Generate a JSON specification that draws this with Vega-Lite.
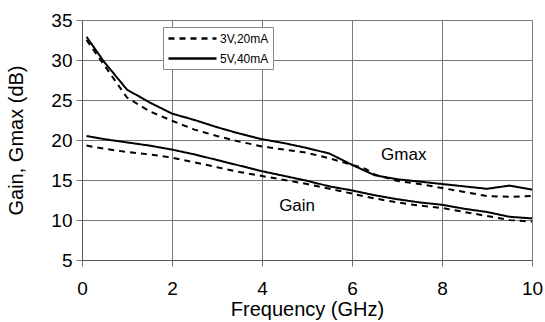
{
  "$schema": "https://vega.github.io/schema/vega-lite/v6.json",
  "width": 450,
  "height": 240,
  "autosize": {"type": "none"},
  "padding": {"left": 82, "top": 20, "right": 13, "bottom": 62},
  "background": "white",
  "config": {
    "view": {"stroke": null},
    "font": "Liberation Sans",
    "axis": {
      "labelFont": "Liberation Sans",
      "titleFont": "Liberation Sans",
      "labelColor": "#000",
      "titleColor": "#000",
      "titleFontWeight": "normal",
      "gridColor": "#7a7a7a",
      "gridOpacity": 1,
      "gridWidth": 1,
      "domainColor": "#555",
      "tickColor": "#777",
      "tickSize": 6
    }
  },
  "datasets": {
    "curves": [
      {"f": 0.1, "g": 32.9, "series": "5V,40mA", "curve": "Gmax"},
      {"f": 0.5, "g": 29.7, "series": "5V,40mA", "curve": "Gmax"},
      {"f": 1, "g": 26.3, "series": "5V,40mA", "curve": "Gmax"},
      {"f": 1.5, "g": 24.7, "series": "5V,40mA", "curve": "Gmax"},
      {"f": 2, "g": 23.3, "series": "5V,40mA", "curve": "Gmax"},
      {"f": 2.5, "g": 22.5, "series": "5V,40mA", "curve": "Gmax"},
      {"f": 3, "g": 21.6, "series": "5V,40mA", "curve": "Gmax"},
      {"f": 3.5, "g": 20.8, "series": "5V,40mA", "curve": "Gmax"},
      {"f": 4, "g": 20.1, "series": "5V,40mA", "curve": "Gmax"},
      {"f": 4.5, "g": 19.6, "series": "5V,40mA", "curve": "Gmax"},
      {"f": 5, "g": 19.0, "series": "5V,40mA", "curve": "Gmax"},
      {"f": 5.5, "g": 18.3, "series": "5V,40mA", "curve": "Gmax"},
      {"f": 6, "g": 16.9, "series": "5V,40mA", "curve": "Gmax"},
      {"f": 6.5, "g": 15.6, "series": "5V,40mA", "curve": "Gmax"},
      {"f": 7, "g": 15.1, "series": "5V,40mA", "curve": "Gmax"},
      {"f": 7.5, "g": 14.8, "series": "5V,40mA", "curve": "Gmax"},
      {"f": 8, "g": 14.5, "series": "5V,40mA", "curve": "Gmax"},
      {"f": 8.5, "g": 14.2, "series": "5V,40mA", "curve": "Gmax"},
      {"f": 9, "g": 13.9, "series": "5V,40mA", "curve": "Gmax"},
      {"f": 9.5, "g": 14.3, "series": "5V,40mA", "curve": "Gmax"},
      {"f": 10, "g": 13.8, "series": "5V,40mA", "curve": "Gmax"},

      {"f": 0.1, "g": 32.5, "series": "3V,20mA", "curve": "Gmax"},
      {"f": 0.5, "g": 29.3, "series": "3V,20mA", "curve": "Gmax"},
      {"f": 1, "g": 25.3, "series": "3V,20mA", "curve": "Gmax"},
      {"f": 1.5, "g": 23.6, "series": "3V,20mA", "curve": "Gmax"},
      {"f": 2, "g": 22.4, "series": "3V,20mA", "curve": "Gmax"},
      {"f": 2.5, "g": 21.3, "series": "3V,20mA", "curve": "Gmax"},
      {"f": 3, "g": 20.5, "series": "3V,20mA", "curve": "Gmax"},
      {"f": 3.5, "g": 19.8, "series": "3V,20mA", "curve": "Gmax"},
      {"f": 4, "g": 19.2, "series": "3V,20mA", "curve": "Gmax"},
      {"f": 4.5, "g": 18.8, "series": "3V,20mA", "curve": "Gmax"},
      {"f": 5, "g": 18.4, "series": "3V,20mA", "curve": "Gmax"},
      {"f": 5.5, "g": 17.7, "series": "3V,20mA", "curve": "Gmax"},
      {"f": 6, "g": 16.9, "series": "3V,20mA", "curve": "Gmax"},
      {"f": 6.3, "g": 16.4, "series": "3V,20mA", "curve": "Gmax"},
      {"f": 6.5, "g": 15.7, "series": "3V,20mA", "curve": "Gmax"},
      {"f": 7, "g": 14.9, "series": "3V,20mA", "curve": "Gmax"},
      {"f": 7.5, "g": 14.5, "series": "3V,20mA", "curve": "Gmax"},
      {"f": 8, "g": 14.0, "series": "3V,20mA", "curve": "Gmax"},
      {"f": 8.5, "g": 13.5, "series": "3V,20mA", "curve": "Gmax"},
      {"f": 9, "g": 13.0, "series": "3V,20mA", "curve": "Gmax"},
      {"f": 9.5, "g": 12.9, "series": "3V,20mA", "curve": "Gmax"},
      {"f": 10, "g": 13.0, "series": "3V,20mA", "curve": "Gmax"},

      {"f": 0.1, "g": 20.5, "series": "5V,40mA", "curve": "Gain"},
      {"f": 0.5, "g": 20.1, "series": "5V,40mA", "curve": "Gain"},
      {"f": 1, "g": 19.7, "series": "5V,40mA", "curve": "Gain"},
      {"f": 1.5, "g": 19.3, "series": "5V,40mA", "curve": "Gain"},
      {"f": 2, "g": 18.8, "series": "5V,40mA", "curve": "Gain"},
      {"f": 2.5, "g": 18.2, "series": "5V,40mA", "curve": "Gain"},
      {"f": 3, "g": 17.5, "series": "5V,40mA", "curve": "Gain"},
      {"f": 3.5, "g": 16.8, "series": "5V,40mA", "curve": "Gain"},
      {"f": 4, "g": 16.1, "series": "5V,40mA", "curve": "Gain"},
      {"f": 4.5, "g": 15.5, "series": "5V,40mA", "curve": "Gain"},
      {"f": 5, "g": 14.9, "series": "5V,40mA", "curve": "Gain"},
      {"f": 5.5, "g": 14.2, "series": "5V,40mA", "curve": "Gain"},
      {"f": 6, "g": 13.7, "series": "5V,40mA", "curve": "Gain"},
      {"f": 6.5, "g": 13.1, "series": "5V,40mA", "curve": "Gain"},
      {"f": 7, "g": 12.6, "series": "5V,40mA", "curve": "Gain"},
      {"f": 7.5, "g": 12.2, "series": "5V,40mA", "curve": "Gain"},
      {"f": 8, "g": 11.9, "series": "5V,40mA", "curve": "Gain"},
      {"f": 8.5, "g": 11.4, "series": "5V,40mA", "curve": "Gain"},
      {"f": 9, "g": 11.0, "series": "5V,40mA", "curve": "Gain"},
      {"f": 9.5, "g": 10.4, "series": "5V,40mA", "curve": "Gain"},
      {"f": 10, "g": 10.2, "series": "5V,40mA", "curve": "Gain"},

      {"f": 0.1, "g": 19.3, "series": "3V,20mA", "curve": "Gain"},
      {"f": 0.5, "g": 18.9, "series": "3V,20mA", "curve": "Gain"},
      {"f": 1, "g": 18.5, "series": "3V,20mA", "curve": "Gain"},
      {"f": 1.5, "g": 18.2, "series": "3V,20mA", "curve": "Gain"},
      {"f": 2, "g": 17.8, "series": "3V,20mA", "curve": "Gain"},
      {"f": 2.5, "g": 17.2, "series": "3V,20mA", "curve": "Gain"},
      {"f": 3, "g": 16.6, "series": "3V,20mA", "curve": "Gain"},
      {"f": 3.5, "g": 16.0, "series": "3V,20mA", "curve": "Gain"},
      {"f": 4, "g": 15.5, "series": "3V,20mA", "curve": "Gain"},
      {"f": 4.5, "g": 15.0, "series": "3V,20mA", "curve": "Gain"},
      {"f": 5, "g": 14.5, "series": "3V,20mA", "curve": "Gain"},
      {"f": 5.5, "g": 13.9, "series": "3V,20mA", "curve": "Gain"},
      {"f": 6, "g": 13.3, "series": "3V,20mA", "curve": "Gain"},
      {"f": 6.5, "g": 12.7, "series": "3V,20mA", "curve": "Gain"},
      {"f": 7, "g": 12.2, "series": "3V,20mA", "curve": "Gain"},
      {"f": 7.5, "g": 11.8, "series": "3V,20mA", "curve": "Gain"},
      {"f": 8, "g": 11.5, "series": "3V,20mA", "curve": "Gain"},
      {"f": 8.5, "g": 11.0, "series": "3V,20mA", "curve": "Gain"},
      {"f": 9, "g": 10.5, "series": "3V,20mA", "curve": "Gain"},
      {"f": 9.5, "g": 10.0, "series": "3V,20mA", "curve": "Gain"},
      {"f": 10, "g": 9.8, "series": "3V,20mA", "curve": "Gain"}
    ],
    "labels": [
      {"f": 7.15, "g": 18.1, "text": "Gmax"},
      {"f": 4.78, "g": 11.7, "text": "Gain"}
    ]
  },
  "encoding": {
    "x": {
      "field": "f", "type": "quantitative",
      "scale": {"domain": [0, 10], "nice": false},
      "axis": {
        "values": [0, 2, 4, 6, 8, 10],
        "title": "Frequency (GHz)",
        "labelFontSize": 19,
        "titleFontSize": 20,
        "labelPadding": 13,
        "titlePadding": 1,
        "labelFlush": false,
        "labelOverlap": false
      }
    },
    "y": {
      "field": "g", "type": "quantitative",
      "scale": {"domain": [5, 35], "nice": false, "zero": false},
      "axis": {
        "values": [5, 10, 15, 20, 25, 30, 35],
        "tickCount": 7,
        "title": "Gain, Gmax (dB)",
        "labelFontSize": 19,
        "titleFontSize": 20,
        "labelPadding": 4,
        "titlePadding": 24,
        "labelFlush": false,
        "labelOverlap": false,
        "labelSeparation": 0
      }
    }
  },
  "layer": [
    {
      "data": {"name": "curves"},
      "mark": {"type": "line", "color": "black", "strokeWidth": 2},
      "encoding": {
        "detail": {"field": "curve"},
        "strokeDash": {
          "field": "series", "type": "nominal",
          "scale": {"domain": ["3V,20mA", "5V,40mA"], "range": [[6, 5], [1, 0]]},
          "legend": {
            "title": null,
            "orient": "none",
            "legendX": 81,
            "legendY": 7,
            "symbolType": "M-1,0H7",
            "symbolSize": 144,
            "symbolStrokeWidth": 2.5,
            "symbolStrokeColor": "black",
            "symbolFillColor": "transparent",
            "labelFontSize": 12,
            "labelFont": "Liberation Sans",
            "labelColor": "#000",
            "labelOffset": 38,
            "rowPadding": 6,
            "padding": 4,
            "fillColor": "white",
            "strokeColor": "#888",
            "cornerRadius": 0
          }
        }
      }
    },
    {
      "data": {"name": "labels"},
      "mark": {"type": "text", "fontSize": 17, "font": "Liberation Sans", "color": "black"},
      "encoding": {
        "text": {"field": "text"}
      }
    }
  ]
}
